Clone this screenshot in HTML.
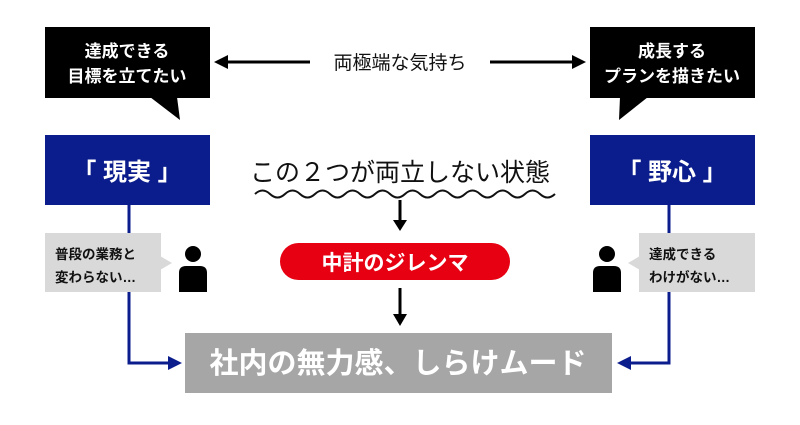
<!DOCTYPE html>
<html><head><meta charset="utf-8"><style>
body{margin:0;background:#fff;width:800px;height:420px;overflow:hidden}
svg text{font-family:"Liberation Sans","Noto Sans CJK JP",sans-serif}
</style></head><body>
<svg width="800" height="420" viewBox="0 0 800 420" xmlns="http://www.w3.org/2000/svg">
<!-- black bubbles -->
<rect x="45" y="27" width="165" height="71" fill="#000"/>
<polygon points="150,97 177,97 180,120" fill="#000"/>
<text x="127" y="57" font-size="17" fill="#fff" text-anchor="middle" font-weight="bold">達成できる</text>
<text x="127" y="82" font-size="17" fill="#fff" text-anchor="middle" font-weight="bold">目標を立てたい</text>
<rect x="590" y="27" width="165" height="71" fill="#000"/>
<polygon points="620,97 648,97 619,120" fill="#000"/>
<text x="672" y="57" font-size="17" fill="#fff" text-anchor="middle" font-weight="bold">成長する</text>
<text x="672" y="82" font-size="17" fill="#fff" text-anchor="middle" font-weight="bold">プランを描きたい</text>
<!-- top arrow -->
<line x1="225" y1="62" x2="310" y2="62" stroke="#000" stroke-width="3"/>
<polygon points="214,62 228,55 228,69" fill="#000"/>
<line x1="490" y1="62" x2="575" y2="62" stroke="#000" stroke-width="3"/>
<polygon points="586,62 572,55 572,69" fill="#000"/>
<text x="400" y="69" font-size="19" text-anchor="middle" fill="#111">両極端な気持ち</text>
<!-- blue boxes -->
<rect x="45" y="135" width="165" height="70" fill="#0b1c8c"/>
<text x="127" y="180" font-size="24" fill="#fff" text-anchor="middle" font-weight="bold">「 現実 」</text>
<rect x="590" y="135" width="165" height="70" fill="#0b1c8c"/>
<text x="672" y="180" font-size="24" fill="#fff" text-anchor="middle" font-weight="bold">「 野心 」</text>
<!-- center -->
<text x="400" y="181" font-size="25" text-anchor="middle" fill="#111">この２つが両立しない状態</text>
<path d="M255 194 q7.5 -7 15 0 t15 0 t15 0 t15 0 t15 0 t15 0 t15 0 t15 0 t15 0 t15 0 t15 0 t15 0 t15 0 t15 0 t15 0 t15 0 t15 0 t15 0 t15 0 t15 0" fill="none" stroke="#111" stroke-width="2"/>
<line x1="400" y1="200" x2="400" y2="222" stroke="#000" stroke-width="3"/>
<polygon points="393,220 407,220 400,231" fill="#000"/>
<rect x="280" y="243" width="230" height="37" rx="18.5" fill="#e60012"/>
<text x="395" y="270" font-size="21" fill="#fff" text-anchor="middle" font-weight="bold">中計のジレンマ</text>
<line x1="400" y1="288" x2="400" y2="316" stroke="#000" stroke-width="3"/>
<polygon points="393,314 407,314 400,326" fill="#000"/>
<rect x="185" y="333" width="427" height="60" fill="#a6a6a6"/>
<text x="398" y="373" font-size="29" fill="#fff" text-anchor="middle" font-weight="bold">社内の無力感、しらけムード</text>
<!-- blue connectors -->
<polyline points="129,205 129,363 172,363" fill="none" stroke="#0b1c8c" stroke-width="3"/>
<polygon points="182,363 168,356 168,370" fill="#0b1c8c"/>
<polyline points="669,205 669,363 628,363" fill="none" stroke="#0b1c8c" stroke-width="3"/>
<polygon points="617,363 631,356 631,370" fill="#0b1c8c"/>
<!-- gray bubbles -->
<rect x="45" y="233" width="116" height="59" fill="#d9d9d9"/>
<polygon points="160,256 172,263 160,270" fill="#d9d9d9"/>
<text x="55" y="259" font-size="13.5" fill="#111" font-weight="bold">普段の業務と</text>
<text x="55" y="282" font-size="13.5" fill="#111" font-weight="bold">変わらない…</text>
<rect x="639" y="233" width="116" height="59" fill="#d9d9d9"/>
<polygon points="640,256 628,263 640,270" fill="#d9d9d9"/>
<text x="649" y="259" font-size="13.5" fill="#111" font-weight="bold">達成できる</text>
<text x="649" y="282" font-size="13.5" fill="#111" font-weight="bold">わけがない…</text>
<!-- persons -->
<circle cx="193" cy="254" r="8" fill="#000"/>
<path d="M179 292 V273 q0 -7 7 -7 h14 q7 0 7 7 V292 Z" fill="#000"/>
<circle cx="607" cy="254" r="8" fill="#000"/>
<path d="M593 292 V273 q0 -7 7 -7 h14 q7 0 7 7 V292 Z" fill="#000"/>
</svg>
</body></html>
